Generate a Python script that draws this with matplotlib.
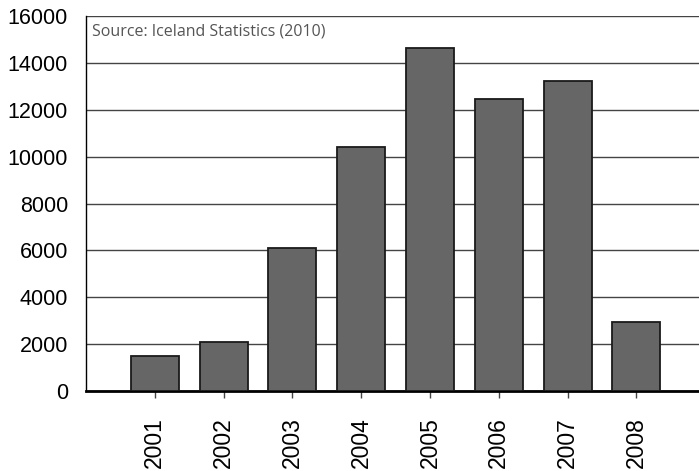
import matplotlib.pyplot as plt

years = ['2001', '2002', '2003', '2004', '2005', '2006', '2007', '2008']
values = [1500, 2100, 6100, 10400, 14650, 12450, 13230, 2950]

plt.rcParams['font.family'] = ['Liberation Sans', 'DejaVu Sans']

fig = plt.figure(figsize=(6.99, 4.71), dpi=100)
ax = fig.add_axes([86 / 699, 1 - 391 / 471, (699 - 86) / 699, (391 - 16) / 471])

pos = list(range(1, len(years) + 1))
ax.bar(pos, values, width=0.7, color='#666666', edgecolor='#1a1a1a', linewidth=1.3, zorder=3)

ax.set_xlim(0, 8.91)
ax.set_ylim(0, 16000)
ax.set_yticks(range(0, 16001, 2000))
ax.set_xticks(pos)
ax.set_xticklabels(years, rotation=90)

ax.yaxis.grid(True, color='#444444', linewidth=1.0, zorder=0)
ax.tick_params(axis='y', length=0, pad=13, labelsize=15.5)
ax.tick_params(axis='x', length=5, width=1, color='#444444', pad=14, labelsize=16.5)

ax.spines['right'].set_visible(False)
ax.spines['top'].set_visible(False)
ax.spines['left'].set_color('black')
ax.spines['left'].set_linewidth(1.0)
ax.spines['bottom'].set_color('black')
ax.spines['bottom'].set_linewidth(2.0)

ax.text(6 / 613, 1 - 7 / 375, 'Source: Iceland Statistics (2010)', transform=ax.transAxes,
        ha='left', va='top', fontsize=11.5, color='#555555',
        family=['Open Sans', 'DejaVu Sans'])

fig.savefig('out.png', dpi=100)
